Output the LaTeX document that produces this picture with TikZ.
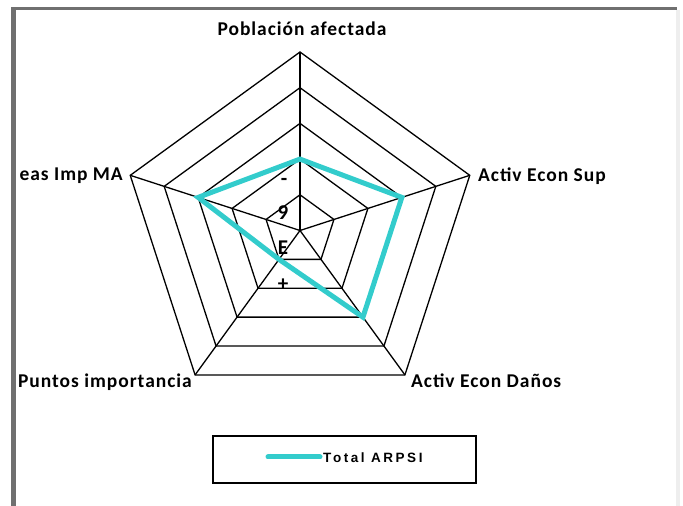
\documentclass[tikz,border=0pt]{standalone}
\usepackage{fontspec}
\setmainfont{Carlito}
\newfontfamily\labelfont[LetterSpace=5]{Carlito}
\newfontfamily\legendfont[LetterSpace=19]{Liberation Sans}
\usetikzlibrary{positioning, calc}
\definecolor{seriescolor}{RGB}{51,204,204}
\definecolor{framecolor}{RGB}{112,112,112}
\definecolor{edgecolor}{RGB}{238,238,238}

\begin{document}
\begin{tikzpicture}[x=1pt, y=1pt,
    axislabel/.style={font=\labelfont\fontsize{19.5}{19.5}\selectfont\bfseries, inner sep=0pt},
    ticklabel/.style={font=\fontsize{21}{21}\selectfont\bfseries, inner sep=0pt},
    grid/.style={line width=1.3pt, line join=miter}]
        \useasboundingbox (0,0) rectangle (683,506);

        % Draw frame
        \fill[framecolor] (11,0) rectangle (16,499);
        \fill[framecolor] (11,496) rectangle (677,499);
        \fill[edgecolor] (676,0) rectangle (680,496);

        % Define the centre
        \coordinate (O) at (300,275.5);

        % Draw rings
        \foreach \r in {1,...,5} {
            \draw[grid] ($(O)+(90:\r*35.7)$) -- ($(O)+(18:\r*35.7)$) -- ($(O)+(-54:\r*35.7)$)
                -- ($(O)+(-126:\r*35.7)$) -- ($(O)+(162:\r*35.7)$) -- cycle;
        }

        % Draw spokes
        \foreach \a/\n in {90/P, 18/S, -54/D, -126/I, 162/M} {
            \coordinate (\n) at ($(O)+(\a:178.5)$);
            \draw[grid] (O) -- (\n);
        }

        % Define the data points
        \coordinate (P1) at ($(O)+(90:2*35.7)$);
        \coordinate (S1) at ($(O)+(18:3*35.7)$);
        \coordinate (D1) at ($(O)+(-54:3*35.7)$);
        \coordinate (I1) at ($(O)+(-126:1*35.7)$);
        \coordinate (M1) at ($(O)+(162:3*35.7)$);

        % Draw series
        \draw[seriescolor, line width=5pt, line join=miter] (P1) -- (S1) -- (D1) -- (I1) -- (M1) -- cycle;

        % Add axis labels
        \node[axislabel] (pobl) at (302,477) {Población afectada};
        \node[axislabel, anchor=west] (sup) at (478,330) {Activ Econ Sup};
        \node[axislabel, anchor=west] (danos) at (411,125) {Activ Econ Daños};
        \node[axislabel, anchor=east] (puntos) at (192,124) {Puntos importancia};
        \node[axislabel, anchor=east] (areas) at (123,330) {eas Imp MA};

        % Add tick labels
        \node[ticklabel] (tminus) at (284,324) {-};
        \node[ticklabel] (tnine) at (283,293) {9};
        \node[ticklabel] (te) at (283,258) {E};
        \node[ticklabel] (tplus) at (283,221) {+};

        % Legend
        \draw[line width=1.5pt] (213,23) rectangle (476,70);
        \coordinate (L1) at (268,49);
        \coordinate (L2) at (320,49);
        \draw[seriescolor, line width=5pt, line cap=round] (L1) -- (L2);
        \node[font=\legendfont\fontsize{13.5}{13.5}\selectfont\bfseries, anchor=west, inner sep=0pt] (leg) at (323,48) {Total ARPSI};
    \end{tikzpicture}
\end{document}
